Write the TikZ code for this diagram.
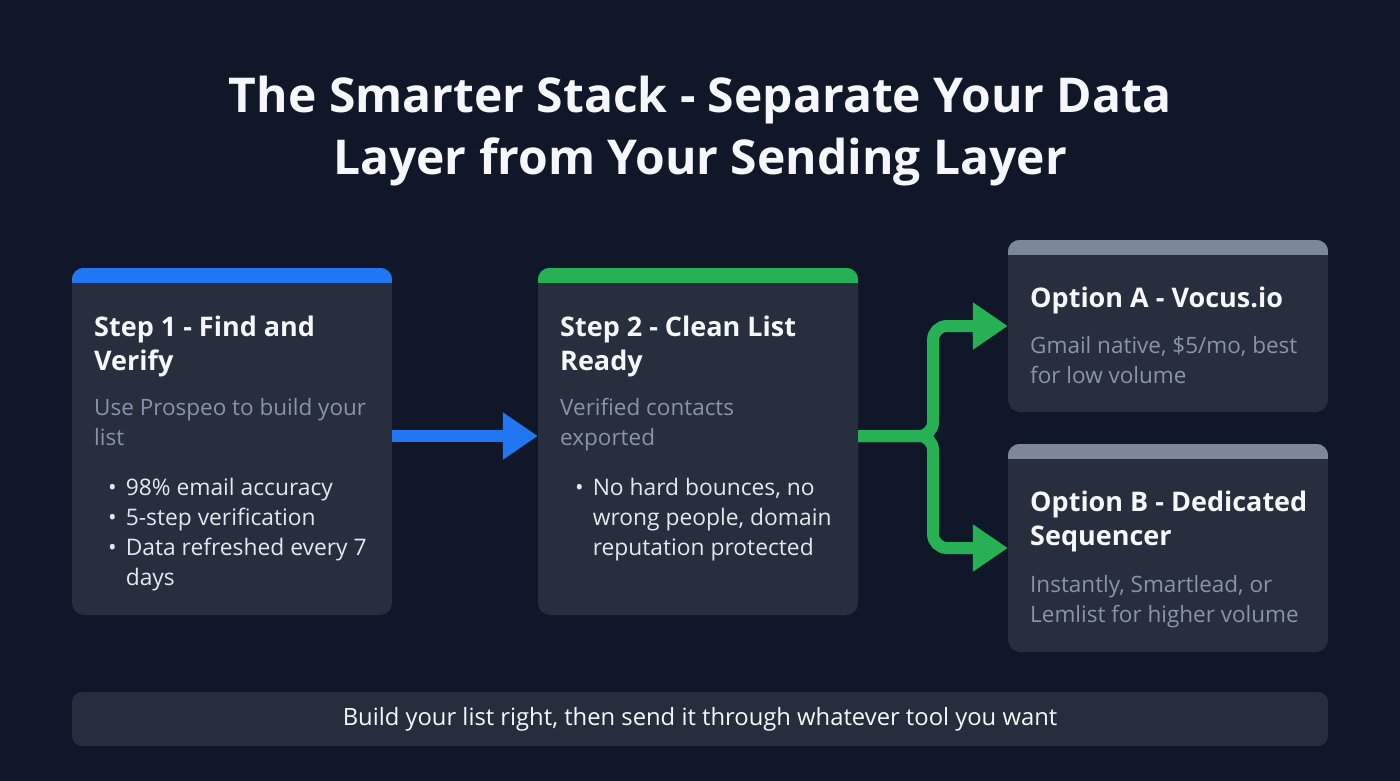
\documentclass[tikz,border=0pt]{standalone}
\usepackage{fontspec}
\setmainfont{Open Sans}
\usetikzlibrary{arrows.meta}
\definecolor{bg}{HTML}{0F1729}
\definecolor{cardc}{HTML}{272F3E}
\definecolor{footc}{HTML}{262E3D}
\definecolor{blueA}{HTML}{2176F2}
\definecolor{greenA}{HTML}{27B155}
\definecolor{grayA}{HTML}{7C8798}
\definecolor{muted}{HTML}{8A94A6}
\definecolor{bodyt}{HTML}{E3E7EE}
\definecolor{titlet}{HTML}{F5F7FA}
\newcommand\mlines[2][l]{\begin{tabular}[t]{@{}#1@{}}#2\end{tabular}}
\newcommand\cardbar[2]{\begin{scope}\clip[rounded corners=12pt] (#1.north west) rectangle (#1.south east);
  \fill[#2] (#1.north west) rectangle ([yshift=-15pt]#1.north east);\end{scope}}
\begin{document}
\begin{tikzpicture}[x=1pt,y=-1pt,
  cardbox/.style={fill=cardc, rounded corners=12pt, inner sep=0pt, minimum width=320pt},
  ttl/.style={anchor=base west, inner sep=0pt, text=titlet, font=\fontsize{27}{34}\selectfont\bfseries},
  sub/.style={anchor=base west, inner sep=0pt, text=muted, font=\fontsize{22.5}{30}\selectfont},
  bul/.style={anchor=base west, inner sep=0pt, text=bodyt, font=\fontsize{22.8}{30}\selectfont},
  flow/.style={line width=12pt, -{Triangle[length=35pt,width=45pt]}},
]
\useasboundingbox[fill=bg] (0,0) rectangle (1400,781);

% title
\node[anchor=base, inner sep=0pt, text=titlet, font=\fontsize{48}{62}\selectfont\bfseries] (title) at (700,113)
  {\mlines[c]{The Smarter Stack - Separate Your Data\\Layer from Your Sending Layer}};

% cards
\node[cardbox, minimum height=347pt] (s1) at (232,441.5) {};
\node[cardbox, minimum height=347pt] (s2) at (698,441.5) {};
\node[cardbox, minimum height=172pt] (oA) at (1168,326) {};
\node[cardbox, minimum height=208pt] (oB) at (1168,548) {};
\cardbar{s1}{blueA}
\cardbar{s2}{greenA}
\cardbar{oA}{grayA}
\cardbar{oB}{grayA}

% step 1
\node[ttl] (s1t) at (94,336) {\mlines{Step 1 - Find and\\Verify}};
\node[sub] (s1s) at (94,415) {\mlines{Use Prospeo to build your\\list}};
\node[bul] (s1b) at (108,495) {\begin{tabular}[t]{@{}l@{\hspace{9pt}}l@{}}\textbullet & 98\% email accuracy\\ \textbullet & 5-step verification\\ \textbullet & Data refreshed every 7\\ & days\end{tabular}};

% step 2
\node[ttl] (s2t) at (560,336) {\mlines{Step 2 - Clean List\\Ready}};
\node[sub] (s2s) at (560,415) {\mlines{Verified contacts\\exported}};
\node[bul] (s2b) at (575,495) {\begin{tabular}[t]{@{}l@{\hspace{9pt}}l@{}}\textbullet & No hard bounces, no\\ & wrong people, domain\\ & reputation protected\end{tabular}};

% option A
\node[ttl] (oAt) at (1030,307) {Option A - Vocus.io};
\node[sub] (oAs) at (1030,353) {\mlines{Gmail native, \$5/mo, best\\for low volume}};

% option B
\node[ttl] (oBt) at (1030,511) {\mlines{Option B - Dedicated\\Sequencer}};
\node[sub] (oBs) at (1030,592) {\mlines{Instantly, Smartlead, or\\Lemlist for higher volume}};

% footer
\node[fill=footc, rounded corners=10pt, minimum width=1256pt, minimum height=54pt, inner sep=0pt,
  text=titlet, font=\fontsize{23.8}{28}\selectfont] (foot) at (700,719) {Build your list right, then send it through whatever tool you want};

% connectors
\coordinate (fork) at (933,436);
\draw[flow, blueA] ([yshift=5.5pt]s1.east) -- ([yshift=5.5pt]s2.west);
\draw[flow, greenA, rounded corners=14pt] ([yshift=5.5pt]s2.east) -- (fork) |- (oA.west);
\draw[flow, greenA, rounded corners=14pt] ([yshift=5.5pt]s2.east) -- (fork) |- (oB.west);
\end{tikzpicture}
\end{document}
